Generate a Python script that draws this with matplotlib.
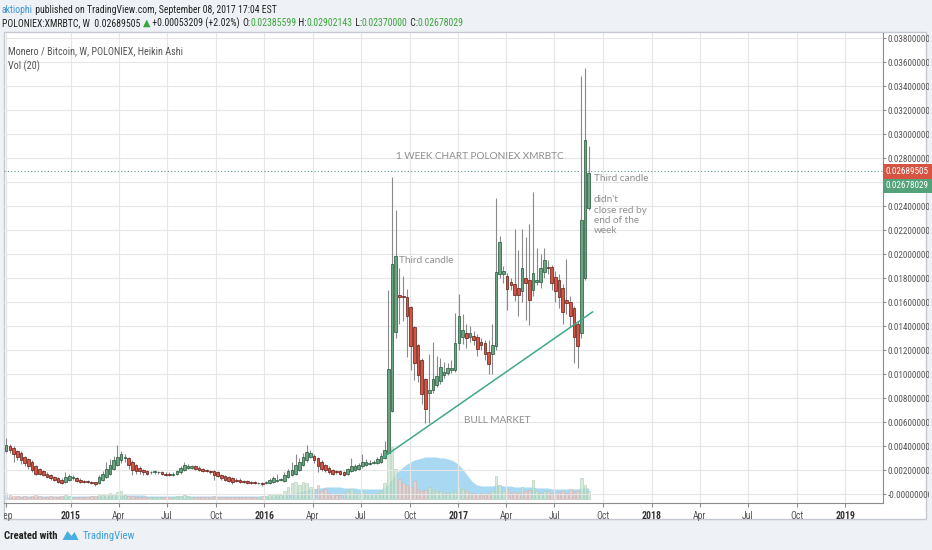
import matplotlib
matplotlib.use('Agg')
import matplotlib.pyplot as plt
import matplotlib.dates as mdates
import matplotlib.transforms as mtransforms
from matplotlib import font_manager
from matplotlib.patches import Rectangle, Polygon
from matplotlib.transforms import Bbox, TransformedBbox
import numpy as np
import pandas as pd

# weekly Heikin Ashi candles, XMR/BTC (Poloniex), last week starting 2017-09-04
last_week = '2017-09-04'
ha_open = [0.0036, 0.0040, 0.0038, 0.0036, 0.0034, 0.0031, 0.0029, 0.0027, 0.0023, 0.0021,
           0.0019, 0.0017, 0.0016, 0.0014, 0.0013, 0.0012, 0.0010, 0.0012, 0.0013, 0.0013,
           0.0012, 0.0011, 0.0011, 0.0010, 0.0010, 0.0009, 0.0012, 0.0014, 0.0017, 0.0021,
           0.0024, 0.0028, 0.0030, 0.0030, 0.0027, 0.0024, 0.0022, 0.0020, 0.0019, 0.0018,
           0.0018, 0.0018, 0.0018, 0.0017, 0.0017, 0.0016, 0.0017, 0.0018, 0.0020, 0.0022,
           0.0022, 0.0023, 0.0022, 0.0021, 0.0020, 0.0019, 0.0019, 0.0018, 0.0016, 0.0015,
           0.0014, 0.0013, 0.0012, 0.0012, 0.0011, 0.0011, 0.0010, 0.0010, 0.0009, 0.0009,
           0.0009, 0.0009, 0.0010, 0.0011, 0.0012, 0.0011, 0.0014, 0.0016, 0.0017, 0.0020,
           0.0024, 0.0028, 0.0031, 0.0032, 0.0030, 0.0027, 0.0024, 0.0022, 0.0020, 0.0019,
           0.0019, 0.0018, 0.0017, 0.0019, 0.0020, 0.0021, 0.0023, 0.0024, 0.0025, 0.0026,
           0.0026, 0.0027, 0.0030, 0.0034, 0.0069, 0.0135, 0.0166, 0.0165, 0.0164, 0.0156,
           0.0139, 0.0124, 0.0112, 0.0096, 0.0084, 0.0087, 0.0091, 0.0094, 0.0099, 0.0101,
           0.0103, 0.0103, 0.0126, 0.0131, 0.0134, 0.0131, 0.0132, 0.0131, 0.0127, 0.0126,
           0.0118, 0.0117, 0.0123, 0.0183, 0.0183, 0.0182, 0.0177, 0.0175, 0.0172, 0.0169,
           0.0180, 0.0178, 0.0170, 0.0177, 0.0177, 0.0185, 0.0189, 0.0189, 0.0181, 0.0178,
           0.0172, 0.0162, 0.0160, 0.0155, 0.0142, 0.0134, 0.0180, 0.02385599]
ha_close = [0.0041, 0.0037, 0.0033, 0.0031, 0.0028, 0.0026, 0.0023, 0.0020, 0.0017, 0.0017,
            0.0016, 0.0014, 0.0013, 0.0012, 0.0010, 0.0009, 0.0014, 0.0015, 0.0014, 0.0011,
            0.0010, 0.0010, 0.0010, 0.0009, 0.0008, 0.0014, 0.0017, 0.0021, 0.0024, 0.0028,
            0.0031, 0.0033, 0.0030, 0.0024, 0.0020, 0.0019, 0.0019, 0.0018, 0.0017, 0.0018,
            0.0019, 0.0018, 0.0017, 0.0016, 0.0016, 0.0017, 0.0019, 0.0022, 0.0024, 0.0023,
            0.0023, 0.0021, 0.0020, 0.0019, 0.0019, 0.0018, 0.0016, 0.0015, 0.0013, 0.0012,
            0.0011, 0.0010, 0.0011, 0.0010, 0.0010, 0.0009, 0.0009, 0.0009, 0.0009, 0.0008,
            0.0010, 0.0012, 0.0013, 0.0012, 0.0012, 0.0016, 0.0019, 0.0020, 0.0024, 0.0027,
            0.0031, 0.0035, 0.0034, 0.0028, 0.0023, 0.0021, 0.0020, 0.0018, 0.0017, 0.0018,
            0.0017, 0.0016, 0.0021, 0.0023, 0.0023, 0.0024, 0.0027, 0.0027, 0.0026, 0.0026,
            0.0029, 0.0032, 0.0037, 0.0104, 0.0192, 0.0198, 0.0164, 0.0164, 0.0148, 0.0123,
            0.0109, 0.0099, 0.0083, 0.0071, 0.0087, 0.0096, 0.0098, 0.0106, 0.0102, 0.0105,
            0.0105, 0.0126, 0.0148, 0.0137, 0.0130, 0.0134, 0.0128, 0.0121, 0.0124, 0.0117,
            0.0108, 0.0124, 0.0185, 0.0210, 0.0186, 0.0171, 0.0174, 0.0166, 0.0166, 0.0188,
            0.0176, 0.0162, 0.0184, 0.0178, 0.0188, 0.0195, 0.0188, 0.0176, 0.0169, 0.0164,
            0.0152, 0.0159, 0.0148, 0.0131, 0.0123, 0.0228, 0.0295, 0.02678029]
ha_high = [0.0047, 0.0042, 0.0040, 0.0037, 0.0036, 0.0032, 0.0030, 0.0028, 0.0024, 0.0022,
           0.0020, 0.0018, 0.0017, 0.0015, 0.0014, 0.0013, 0.0018, 0.0017, 0.0016, 0.0014,
           0.0013, 0.0012, 0.0012, 0.0011, 0.0010, 0.0016, 0.0019, 0.0027, 0.0029, 0.0032,
           0.0041, 0.0036, 0.0033, 0.0031, 0.0028, 0.0025, 0.0023, 0.0021, 0.0020, 0.0019,
           0.0020, 0.0019, 0.0019, 0.0018, 0.0018, 0.0018, 0.0020, 0.0023, 0.0027, 0.0025,
           0.0024, 0.0024, 0.0023, 0.0022, 0.0021, 0.0020, 0.0020, 0.0019, 0.0017, 0.0016,
           0.0015, 0.0014, 0.0013, 0.0013, 0.0012, 0.0012, 0.0011, 0.0011, 0.0010, 0.0010,
           0.0011, 0.0013, 0.0015, 0.0017, 0.0013, 0.0018, 0.0021, 0.0027, 0.0033, 0.0030,
           0.0034, 0.0041, 0.0037, 0.0033, 0.0031, 0.0028, 0.0025, 0.0023, 0.0021, 0.0020,
           0.0020, 0.0019, 0.0022, 0.0030, 0.0025, 0.0026, 0.0033, 0.0029, 0.0028, 0.0028,
           0.0031, 0.0034, 0.0044, 0.0170, 0.0264, 0.0237, 0.0188, 0.0182, 0.0171, 0.0157,
           0.0140, 0.0125, 0.0113, 0.0097, 0.0117, 0.0127, 0.0115, 0.0113, 0.0110, 0.0109,
           0.0112, 0.0151, 0.0167, 0.0150, 0.0142, 0.0140, 0.0136, 0.0133, 0.0130, 0.0128,
           0.0128, 0.0142, 0.0247, 0.0215, 0.0190, 0.0184, 0.0180, 0.0221, 0.0203, 0.0221,
           0.0214, 0.0225, 0.0252, 0.0205, 0.0200, 0.0205, 0.0195, 0.0191, 0.0186, 0.0183,
           0.0175, 0.0196, 0.0165, 0.0157, 0.0144, 0.0348, 0.0355, 0.02902143]
ha_low = [0.0035, 0.0034, 0.0027, 0.0028, 0.0025, 0.0023, 0.0021, 0.0018, 0.0016, 0.0016,
          0.0015, 0.0013, 0.0012, 0.0011, 0.0009, 0.0008, 0.0009, 0.0011, 0.0012, 0.0010,
          0.0009, 0.0009, 0.0009, 0.0008, 0.0007, 0.0008, 0.0011, 0.0013, 0.0016, 0.0020,
          0.0023, 0.0026, 0.0027, 0.0021, 0.0016, 0.0017, 0.0017, 0.0016, 0.0016, 0.0017,
          0.0017, 0.0017, 0.0016, 0.0015, 0.0015, 0.0015, 0.0016, 0.0017, 0.0019, 0.0021,
          0.0021, 0.0020, 0.0019, 0.0018, 0.0018, 0.0017, 0.0012, 0.0014, 0.0012, 0.0011,
          0.0010, 0.0008, 0.0010, 0.0009, 0.0009, 0.0008, 0.0008, 0.0008, 0.0008, 0.0007,
          0.0008, 0.0008, 0.0009, 0.0010, 0.0011, 0.0010, 0.0013, 0.0015, 0.0016, 0.0019,
          0.0023, 0.0027, 0.0030, 0.0026, 0.0018, 0.0019, 0.0018, 0.0017, 0.0016, 0.0017,
          0.0016, 0.0015, 0.0016, 0.0018, 0.0019, 0.0020, 0.0022, 0.0023, 0.0024, 0.0025,
          0.0025, 0.0026, 0.0029, 0.0033, 0.0068, 0.0130, 0.0142, 0.0144, 0.0114, 0.0103,
          0.0095, 0.0093, 0.0075, 0.0059, 0.0059, 0.0084, 0.0089, 0.0092, 0.0097, 0.0099,
          0.0101, 0.0102, 0.0120, 0.0125, 0.0122, 0.0127, 0.0124, 0.0115, 0.0120, 0.0112,
          0.0100, 0.0100, 0.0120, 0.0180, 0.0176, 0.0153, 0.0170, 0.0161, 0.0148, 0.0160,
          0.0145, 0.0141, 0.0165, 0.0174, 0.0172, 0.0180, 0.0183, 0.0170, 0.0160, 0.0155,
          0.0142, 0.0150, 0.0139, 0.0109, 0.0105, 0.0130, 0.0178, 0.0237]

# Vol (20) overlay, arbitrary units
volume = [6, 4, 3, 3, 2, 3, 2, 3, 4, 3, 2, 2, 3, 2, 2, 3, 4, 3, 2, 2,
          2, 2, 2, 3, 3, 4, 4, 5, 6, 5, 7, 8, 4, 3, 3, 2, 2, 2, 2, 2,
          2, 2, 2, 2, 2, 2, 3, 3, 4, 3, 2, 2, 2, 2, 2, 2, 3, 2, 2, 2,
          2, 2, 2, 2, 2, 2, 2, 2, 2, 3, 3, 4, 4, 5, 4, 8, 12, 16, 17, 14,
          17, 16, 12, 10, 14, 8, 10, 6, 5, 4, 4, 5, 8, 10, 7, 6, 8, 6, 5, 5,
          6, 8, 16, 48, 52, 30, 20, 16, 14, 12, 18, 10, 8, 9, 12, 10, 8, 8, 7, 6,
          7, 8, 12, 10, 8, 6, 6, 5, 6, 5, 6, 8, 23, 14, 8, 10, 6, 7, 6, 12,
          8, 9, 19, 8, 6, 8, 8, 6, 5, 7, 8, 6, 10, 7, 8, 21, 14, 8]
volume_ma = [2, 2, 2, 3, 3, 3, 3, 3, 3, 3, 3, 3, 3, 3, 3, 3, 3, 3, 3, 3,
             3, 3, 3, 3, 3, 3, 3, 3, 4, 4, 4, 4, 4, 4, 4, 4, 4, 4, 3, 3,
             3, 3, 3, 3, 3, 3, 3, 3, 3, 3, 3, 3, 3, 3, 3, 3, 3, 3, 3, 3,
             3, 3, 3, 3, 3, 3, 3, 3, 3, 3, 3, 3, 3, 4, 4, 4, 5, 5, 6, 7,
             8, 9, 10, 10, 11, 11, 12, 12, 12, 12, 12, 11, 11, 11, 11, 10, 10, 10, 10, 10,
             10, 10, 11, 15, 20, 25, 29, 32, 35, 37, 39, 40, 41, 42, 42, 42, 42, 41, 41, 40,
             39, 37, 34, 30, 25, 20, 16, 14, 13, 13, 13, 13, 14, 14, 13, 13, 13, 12, 12, 12,
             12, 12, 12, 11, 11, 11, 11, 10, 10, 10, 10, 10, 10, 10, 10, 11, 11, 11]

last_price = 0.02689505
ha_last_close = 0.02678029
trend_dates = ['2016-08-13', '2017-09-11']
trend_values = [0.00308, 0.01517]
price_ticks = np.arange(0, 0.0381, 0.002)

W, H = 932, 550
fig = plt.figure(figsize=(W / 100, H / 100), dpi=100)
fig.set_facecolor('#eef1f5')


def fx(px):
    return px / W


def fy(py):
    return 1 - py / H


installed = {f.name for f in font_manager.fontManager.ttflist}
NARROW = 'Liberation Sans'
for cand in ['Liberation Sans Narrow', 'Roboto Condensed', 'Open Sans Condensed']:
    if cand in installed:
        NARROW = cand
        break
is_narrow = NARROW != 'Liberation Sans'
FAM = [NARROW, 'DejaVu Sans']
scale_fs = 6.6 if is_narrow else 5.3
small_fs = 7.0 if is_narrow else 6.3

# white chart frame
fig.add_artist(Rectangle((fx(4), fy(519)), fx(926) - fx(4), fy(32) - fy(519),
                         transform=fig.transFigure, facecolor='white',
                         edgecolor='#c5c8ce', lw=1, zorder=-1))

pos = [fx(4), fy(503), fx(883) - fx(4), fy(33) - fy(503)]
ax_v = fig.add_axes(pos, zorder=1)
ax = fig.add_axes(pos, zorder=2)
ax.patch.set_visible(False)

weeks = pd.date_range(end=last_week, periods=len(ha_open), freq='7D')
x = mdates.date2num(weeks)
o = np.array(ha_open)
c = np.array(ha_close)
hi = np.array(ha_high)
lo = np.array(ha_low)
up = c >= o

xlim = mdates.date2num([pd.Timestamp('2014-08-28'), pd.Timestamp('2019-03-13')])

# volume overlay
vol = np.array(volume)
ax_v.fill_between(x, 0, volume_ma, color='#8ccbee', alpha=0.75, lw=0)
ax_v.bar(x[up], vol[up], width=5, color='#cfe5d3', edgecolor='#a9cdb1', lw=0.5, alpha=0.8)
ax_v.bar(x[~up], vol[~up], width=5, color='#efd2cc', edgecolor='#dcb2aa', lw=0.5, alpha=0.8)
ax_v.set_xlim(xlim)
ax_v.set_ylim(-4, 466)
ax_v.axis('off')
ax_v.patch.set_visible(False)

# candles
ax.vlines(x, lo, hi, color='#8a8a8c', lw=0.8, zorder=3)
body_h = np.maximum(np.abs(c - o), 0.00005)
body_b = np.minimum(o, c)
ax.bar(x[up], body_h[up], bottom=body_b[up], width=5, color='#6ba583',
       edgecolor='#225437', lw=0.5, zorder=4)
ax.bar(x[~up], body_h[~up], bottom=body_b[~up], width=5, color='#d75442',
       edgecolor='#5b1a13', lw=0.5, zorder=4)

# trend line and last price line
ax.plot(mdates.date2num(pd.to_datetime(trend_dates)), trend_values, color='#3fa88b', lw=1.1, zorder=5)
ax.axhline(last_price, color='#5a9f80', lw=0.8, ls=(0, (1, 2)), zorder=2)

ax.set_xlim(xlim)
ax.set_ylim(-0.00075, 0.038417)

# axes styling
for s in ['top', 'left']:
    ax.spines[s].set_visible(False)
ax.spines['right'].set_color('#8c8c8c')
ax.spines['bottom'].set_color('#8c8c8c')
ax.yaxis.tick_right()
ax.set_yticks(price_ticks)
ax.set_yticklabels(['-0.00000000' if v == 0 else f'{v:.8f}' for v in price_ticks])
ax.tick_params(axis='y', length=2.5, pad=1, colors='#8c8c8c', labelcolor='#555555',
               labelsize=scale_fs)
ax.tick_params(axis='x', length=3, pad=3, colors='#8c8c8c', labelcolor='#555555',
               labelsize=small_fs)
tick_dates = [pd.Timestamp('2014-09-01')] + list(pd.date_range('2015-01-01', '2019-01-01', freq='QS'))
ax.set_xticks(mdates.date2num(tick_dates))
ax.set_xticklabels([str(d.year) if d.month == 1 else d.strftime('%b') for d in tick_dates])
ax.grid(True, color='#e6e6e6', lw=0.8)
ax.set_axisbelow(True)

clip = TransformedBbox(Bbox([[fx(4), 0], [fx(929), fy(33)]]), fig.transFigure)
for lbl in ax.get_xticklabels() + ax.get_yticklabels():
    lbl.set_family(FAM)
    lbl.set_clip_box(clip)
    lbl.set_clip_on(True)
for lbl, d in zip(ax.get_xticklabels(), tick_dates):
    if d.month == 1:
        lbl.set_weight('bold')
        lbl.set_color('#333333')

# price labels on the scale
blend = mtransforms.blended_transform_factory(ax.transAxes, ax.transData)
red_t = mtransforms.offset_copy(blend, fig=fig, x=3, y=0, units='dots')
grn_t = mtransforms.offset_copy(blend, fig=fig, x=3, y=-14.5, units='dots')
ax.text(1.0, last_price, f'{last_price:.8f}', transform=red_t, ha='left', va='center',
        color='white', fontsize=scale_fs, family=FAM, clip_on=False, zorder=10,
        bbox=dict(boxstyle='square,pad=0.3', fc='#d75442', ec='none'))
ax.text(1.0, last_price, f'{ha_last_close:.8f}', transform=grn_t, ha='left', va='center',
        color='white', fontsize=scale_fs, family=FAM, clip_on=False, zorder=10,
        bbox=dict(boxstyle='square,pad=0.3', fc='#53a27a', ec='none'))

# chart annotations
note = dict(color='#8f8f8f', family=['Lato', 'DejaVu Sans'], zorder=6)
ax.text(mdates.datestr2num('2017-02-11'), 0.0281, '1 WEEK CHART POLONIEX XMRBTC',
        ha='center', va='center', fontsize=7.2, **note)
ax.text(mdates.datestr2num('2016-09-12'), 0.0195, 'Third candle',
        ha='left', va='center', fontsize=7.2, **note)
ax.text(mdates.datestr2num('2017-03-16'), 0.0061, 'BULL MARKET',
        ha='center', va='center', fontsize=7.2, **note)
ax.text(mdates.datestr2num('2017-09-13'), 0.0263, 'Third candle',
        ha='left', va='center', fontsize=7.2, **note)
ax.text(mdates.datestr2num('2017-09-13'), 0.0249, "didn't\nclose red by\nend of the\nweek",
        ha='left', va='top', fontsize=7.2, linespacing=1.2, **note)

fig.text(fx(8), fy(51), 'Monero / Bitcoin, W, POLONIEX, Heikin Ashi', ha='left', va='center',
         fontsize=small_fs + 0.3, family=FAM, color='#555555')
fig.text(fx(8), fy(66), 'Vol (20)', ha='left', va='center', fontsize=small_fs + 0.3,
         family=FAM, color='#555555')

# header lines
renderer = fig.canvas.get_renderer()


def runs(parts, x0, y0, size, weight='normal'):
    xx = x0
    for s, col in parts:
        t = fig.text(fx(xx), fy(y0), s, ha='left', va='center', fontsize=size,
                     family=FAM, weight=weight, color=col)
        xx += t.get_window_extent(renderer=renderer).width
    return xx


dark = '#222222'
green = '#3aa53a'
runs([('aktiophi', '#3d93d6'),
      (' published on TradingView.com, September 08, 2017 17:04 EST', dark)],
     2, 10, small_fs)
runs([('POLONIEX:XMRBTC, W  0.02689505 ', dark), ('\u25b2', green),
      (' +0.00053209 (+2.02%) ', dark),
      ('O:', dark), ('0.02385599', green), (' H:', dark), ('0.02902143', green),
      (' L:', dark), ('0.02370000', green), (' C:', dark), ('0.02678029', green)],
     2, 23, small_fs)

# footer
x_end = runs([('Created with', '#222222')], 4, 536, small_fs + 0.7, weight='bold')
lx = x_end + 5
fig.add_artist(Polygon([(fx(lx), fy(540)), (fx(lx + 5), fy(531)), (fx(lx + 9), fy(536)),
                        (fx(lx + 12), fy(532)), (fx(lx + 16), fy(540))],
                       closed=True, transform=fig.transFigure, fc='#4aaee0', ec='none'))
runs([('TradingView', '#3d9ddc')], lx + 20, 536, small_fs + 0.7)

fig.savefig('out.png', dpi=100, facecolor=fig.get_facecolor())
